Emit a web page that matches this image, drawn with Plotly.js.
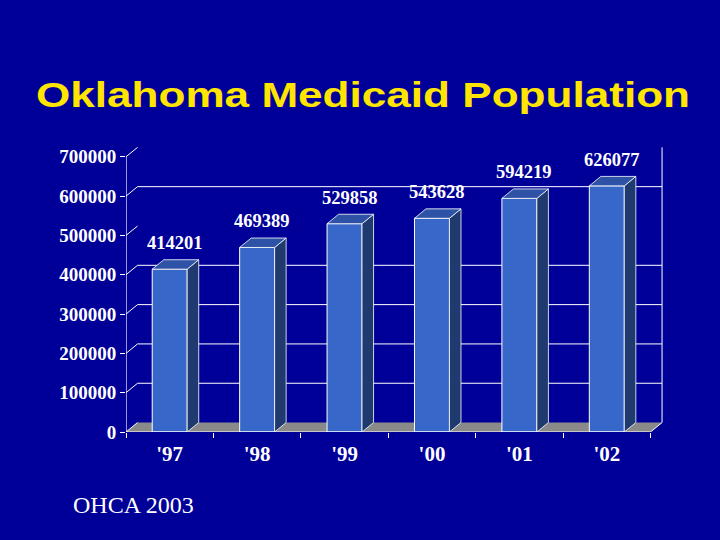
<!DOCTYPE html>
<html>
<head>
<meta charset="utf-8">
<script src="https://cdn.plot.ly/plotly-3.0.1.min.js"></script>
<style>
html,body{margin:0;padding:0;background:#000099;}
#chart{width:720px;height:540px;}
#chart .gtitle{transform-box:fill-box;transform-origin:50% 50%;transform:scaleX(1.26);}
</style>
</head>
<body>
<div id="chart"></div>
<script>
// ---- data ----
const years = ["'97", "'98", "'99", "'00", "'01", "'02"];
const population = [414201, 469389, 529858, 543628, 594219, 626077];
const yTicks = [0, 100000, 200000, 300000, 400000, 500000, 600000, 700000];
const wallGridValues = [100000, 200000, 300000, 400000, 600000];
const chartTitle = "Oklahoma Medicaid Population";
const sourceNote = "OHCA 2003";

// ---- style / geometry constants ----
const BG = '#000099';
const FRONT = '#3767C8';
const TOP = '#2D52A6';
const SIDE = '#1E3A6E';
const FLOOR = '#8a8a8a';
const SERIF = '"Liberation Serif", "Times New Roman", serif';
const BARW = 0.4;          // bar width in category units
const DX = 0.132;          // depth offset (category units)
const DY = 24000;          // depth offset (value units)
const YMAX = 700000;
const nCat = years.length;
const xLeft = -0.5, xRight = nCat - 0.5;

const shapes = [];
// floor
shapes.push({type:'path', xref:'x', yref:'y', layer:'below',
  path:`M${xLeft},0 L${xRight},0 L${xRight+DX},${DY} L${xLeft+DX},${DY} Z`,
  fillcolor:FLOOR, line:{width:0}});
// back wall gridlines
wallGridValues.forEach(v => {
  shapes.push({type:'line', xref:'x', yref:'y', layer:'below',
    x0:xLeft+DX, x1:xRight+DX, y0:v+DY, y1:v+DY, line:{color:'white', width:1}});
});
// diagonal stubs from the front axis to the wall
yTicks.forEach(v => {
  shapes.push({type:'line', xref:'x', yref:'y', layer:'below',
    x0:xLeft, x1:xLeft+DX, y0:v, y1:v+DY, line:{color:'white', width:1}});
});
// right wall edge and floor right edge
shapes.push({type:'line', xref:'x', yref:'y', layer:'below',
  x0:xRight+DX, x1:xRight+DX, y0:DY, y1:YMAX+DY, line:{color:'white', width:1}});
shapes.push({type:'line', xref:'x', yref:'y', layer:'below',
  x0:xRight, x1:xRight+DX, y0:0, y1:DY, line:{color:'white', width:1}});
// front axes lines
shapes.push({type:'line', xref:'x', yref:'y', layer:'above',
  x0:xLeft, x1:xLeft, y0:0, y1:YMAX, line:{color:'white', width:1.2}});
shapes.push({type:'line', xref:'x', yref:'y', layer:'above',
  x0:xLeft, x1:xRight, y0:0, y1:0, line:{color:'white', width:1.2}});
// 3D bar faces
population.forEach((v, i) => {
  const l = i - BARW/2, r = i + BARW/2;
  shapes.push({type:'path', xref:'x', yref:'y', layer:'above',
    path:`M${r},0 L${r+DX},${DY} L${r+DX},${v+DY} L${r},${v} Z`,
    fillcolor:SIDE, line:{color:'white', width:0.8}});
  shapes.push({type:'path', xref:'x', yref:'y', layer:'above',
    path:`M${l},${v} L${r},${v} L${r+DX},${v+DY} L${l+DX},${v+DY} Z`,
    fillcolor:TOP, line:{color:'white', width:0.8}});
});

const annotations = population.map((v, i) => ({
  x: years[i], y: v, xref:'x', yref:'y', text: String(v), showarrow:false,
  xanchor:'center', yanchor:'middle', xshift:5, yshift:26,
  font:{family:SERIF, size:18.5, color:'white', weight:'bold'}
}));
annotations.push({
  xref:'paper', yref:'paper', x: (70-125.5)/542.5, y: (540-108-505)/287,
  xanchor:'left', yanchor:'middle', text: sourceNote, showarrow:false,
  font:{family:SERIF, size:24, color:'white'}
});

const trace = {
  type:'bar', x: years, y: population, width: BARW,
  marker:{color:FRONT, line:{color:'white', width:1}},
  hoverinfo:'skip'
};

const layout = {
  width:720, height:540,
  paper_bgcolor:BG, plot_bgcolor:BG,
  margin:{l:125.5, r:52, t:145, b:108},
  showlegend:false,
  title:{text:chartTitle, x:363/720, xanchor:'center', y:1-95/540, yanchor:'middle',
    font:{family:'"Liberation Sans", Arial, sans-serif', size:35, color:'#FFE500', weight:'bold'}},
  xaxis:{type:'category', range:[xLeft, xRight+0.2], showgrid:false, zeroline:false, showline:false,
    ticks:'outside', tickson:'boundaries', ticklen:5, tickcolor:'white', tickwidth:1,
    ticklabelstandoff:7,
    tickfont:{family:SERIF, size:21, color:'white', weight:'bold'},
    fixedrange:true},
  yaxis:{range:[0, 730000], tickvals:yTicks, ticktext:yTicks.map(String),
    showgrid:false, zeroline:false, showline:false,
    ticks:'outside', ticklen:5, tickcolor:'white', tickwidth:1,
    tickfont:{family:SERIF, size:19, color:'white', weight:'bold'},
    fixedrange:true},
  shapes: shapes,
  annotations: annotations
};

Plotly.newPlot('chart', [trace], layout, {displayModeBar:false, staticPlot:true});
</script>
</body>
</html>
